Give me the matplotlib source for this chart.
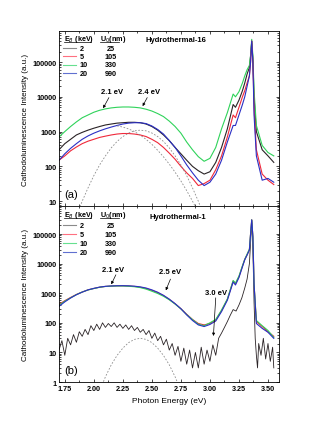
import matplotlib.pyplot as plt
from matplotlib.ticker import MultipleLocator, LogLocator, NullFormatter, FuncFormatter

plt.rcParams['font.family'] = ['Liberation Sans', 'DejaVu Sans']

# photon energy grid (eV), denser near the band-edge peak
energy = [1.70, 1.75, 1.80, 1.85, 1.90, 1.95, 2.00, 2.05, 2.10, 2.15,
          2.20, 2.25, 2.30, 2.35, 2.40, 2.45, 2.50, 2.55, 2.60, 2.65,
          2.70, 2.75, 2.80, 2.85, 2.90, 2.95, 3.00, 3.05, 3.10, 3.15,
          3.20, 3.22, 3.25, 3.28, 3.30, 3.32, 3.34, 3.35, 3.36, 3.37,
          3.38, 3.40, 3.45, 3.50, 3.55]

beam_kev = ['2', '5', '10', '20']
depth_nm = ['25', '105', '330', '990']
colors = ['#2a2326', '#f0283a', '#2fd35a', '#2b2fc4']
legend_colors = ['#8a8a8a', '#ff7080', '#66e090', '#6070d0']

# (a) Hydrothermal-16
h16_2kev = [300, 450, 600, 800, 950, 1100, 1250, 1400, 1550, 1650,
            1750, 1800, 1850, 1850, 1800, 1650, 1400, 1100, 800, 550,
            350, 230, 150, 100, 75, 60, 70, 130, 350, 1200,
            6000, 5000, 8000, 15000, 25000, 45000, 70000, 150000, 400000, 120000,
            10000, 1000, 300, 200, 130]
h16_5kev = [150, 200, 280, 360, 450, 530, 600, 680, 740, 800,
            850, 880, 880, 850, 800, 720, 600, 480, 350, 240,
            160, 100, 65, 45, 28, 32, 40, 80, 200, 700,
            3000, 2500, 5000, 10000, 15000, 25000, 40000, 100000, 400000, 100000,
            5000, 300, 60, 40, 30]
h16_10kev = [700, 1000, 1400, 1900, 2500, 3000, 3600, 4100, 4500, 4800,
             5000, 5100, 5100, 5000, 4800, 4400, 3900, 3300, 2700, 2000,
             1400, 900, 500, 300, 190, 140, 170, 350, 1200, 3500,
             12000, 10000, 14000, 25000, 40000, 60000, 80000, 150000, 450000, 150000,
             15000, 1500, 400, 250, 200]
h16_20kev = [150, 230, 330, 450, 600, 750, 900, 1050, 1200, 1350,
             1500, 1650, 1750, 1800, 1800, 1700, 1450, 1150, 850, 550,
             350, 200, 110, 65, 40, 28, 35, 60, 150, 500,
             1500, 1500, 3000, 6000, 10000, 20000, 40000, 100000, 400000, 100000,
             3000, 200, 40, 45, 35]

# Gaussian components (a)
fit_a1_energy = [2.20, 2.25, 2.30, 2.35, 2.40, 2.45, 2.50, 2.55, 2.60, 2.65,
                 2.70, 2.75, 2.80, 2.85, 2.90]
fit_a1 = [1460, 1350, 1190, 1000, 790, 600, 430, 290, 188, 116,
          68, 38, 20, 10, 4.7]
fit_a2_energy = [1.85, 1.90, 1.95, 2.00, 2.05, 2.10, 2.15, 2.20, 2.25, 2.30,
                 2.35, 2.40, 2.45, 2.50, 2.55, 2.60, 2.65, 2.70, 2.75, 2.80,
                 2.85, 2.90, 2.95]
fit_a2 = [3.7, 10, 24, 54, 110, 200, 340, 520, 720, 910,
          1050, 1100, 1050, 910, 720, 520, 340, 200, 110, 54,
          24, 10, 3.7]

# (b) Hydrothermal-1
h1_5kev = [420, 560, 720, 910, 1100, 1300, 1450, 1600, 1700, 1750,
           1780, 1780, 1750, 1700, 1600, 1450, 1250, 1050, 830, 620,
           440, 300, 195, 130, 95, 85, 95, 125, 260, 620,
           2600, 2100, 3600, 8200, 14000, 20000, 30000, 100000, 300000, 80000,
           2000, 110, 75, 50, 35]
h1_10kev = [390, 540, 700, 900, 1100, 1290, 1440, 1590, 1690, 1740,
            1760, 1760, 1720, 1660, 1550, 1380, 1170, 980, 790, 600,
            430, 295, 190, 128, 90, 80, 100, 130, 270, 640,
            2700, 2200, 3800, 8500, 14000, 21000, 31000, 100000, 300000, 80000,
            2000, 120, 80, 55, 32]
h1_20kev = [360, 510, 690, 890, 1090, 1300, 1460, 1610, 1710, 1760,
            1790, 1800, 1780, 1730, 1640, 1500, 1300, 1080, 850, 630,
            445, 300, 185, 120, 85, 75, 88, 115, 240, 580,
            2400, 1900, 3400, 7800, 13500, 19500, 29000, 100000, 300000, 80000,
            2000, 95, 65, 48, 30]

# 2 keV spectrum of Hydrothermal-1 is much weaker and noisier
h1_2kev_energy = [1.700, 1.725, 1.750, 1.775, 1.800, 1.825, 1.850, 1.875, 1.900, 1.925,
                  1.950, 1.975, 2.000, 2.025, 2.050, 2.075, 2.100, 2.125, 2.150, 2.175,
                  2.200, 2.225, 2.250, 2.275, 2.300, 2.325, 2.350, 2.375, 2.400, 2.425,
                  2.450, 2.475, 2.500, 2.525, 2.550, 2.575, 2.600, 2.625, 2.650, 2.675,
                  2.700, 2.725, 2.750, 2.775, 2.800, 2.825, 2.850, 2.875, 2.900, 2.925,
                  2.950, 2.975, 3.000, 3.025, 3.050, 3.075, 3.100, 3.125, 3.150, 3.175,
                  3.200, 3.225, 3.250, 3.275, 3.300, 3.320, 3.340, 3.350, 3.360, 3.370,
                  3.380, 3.390, 3.400, 3.410, 3.420, 3.440, 3.460, 3.480, 3.500, 3.520,
                  3.540, 3.550]
h1_2kev = [12, 25, 8, 30, 18, 40, 22, 50, 35, 60,
           40, 80, 55, 90, 60, 100, 70, 95, 75, 100,
           70, 90, 65, 85, 60, 80, 55, 70, 48, 60,
           40, 55, 30, 45, 25, 35, 18, 28, 12, 20,
           8, 16, 5, 14, 4, 12, 3, 10, 3, 15,
           4, 12, 5, 18, 8, 30, 45, 70, 110, 180,
           280, 250, 400, 700, 1500, 3000, 10000, 50000, 300000, 30000,
           500, 30, 8, 3, 20, 8, 30, 6, 20, 5,
           15, 3]

fit_b_energy = [2.05, 2.10, 2.15, 2.20, 2.25, 2.30, 2.35, 2.40, 2.45, 2.50,
                2.55, 2.60, 2.65, 2.70, 2.75]
fit_b = [0.5, 1.5, 3.8, 7.9, 14, 21.5, 27.6, 30, 27.6, 21.5,
         14, 7.9, 3.8, 1.5, 0.5]

fig = plt.figure(figsize=(3.25, 4.27), dpi=100)
ax_a = fig.add_axes([0.1815, 0.515, 0.677, 0.41])
ax_b = fig.add_axes([0.1815, 0.103, 0.677, 0.412])


def style_axis(ax, ymin, ymax, show_xlabels):
    ax.set_yscale('log')
    ax.set_xlim(1.70, 3.595)
    ax.set_ylim(ymin, ymax)
    ax.xaxis.set_major_locator(MultipleLocator(0.25))
    ax.xaxis.set_minor_locator(MultipleLocator(0.125))
    ax.yaxis.set_major_locator(LogLocator(base=10, numticks=10))
    ax.yaxis.set_minor_locator(LogLocator(base=10, subs=range(2, 10), numticks=10))
    ax.yaxis.set_minor_formatter(NullFormatter())
    ax.yaxis.set_major_formatter(FuncFormatter(lambda v, _: '%d' % v))
    ax.xaxis.set_major_formatter(FuncFormatter(lambda v, _: '%.2f' % v))
    ax.tick_params(which='both', direction='in', top=True, right=True,
                   width=0.5, labelsize=5.2, pad=2)
    ax.tick_params(which='major', length=2.5)
    ax.tick_params(which='minor', length=1.3)
    for lab in ax.get_xticklabels() + ax.get_yticklabels():
        lab.set_fontweight('bold')
    if not show_xlabels:
        ax.tick_params(axis='x', labelbottom=False)
    for sp in ax.spines.values():
        sp.set_linewidth(0.6)
    ax.set_ylabel('Cathodoluminescence Intensity (a.u.)', fontsize=5.8, labelpad=2)


def draw_legend(ax, y_rows, y_head):
    ax.text(0.023, y_head, r'E$_B$ (keV)', transform=ax.transAxes, fontsize=5.2,
            fontweight='bold', va='center')
    ax.text(0.186, y_head, r'U$_0$(nm)', transform=ax.transAxes, fontsize=5.2,
            fontweight='bold', va='center')
    ax.plot([0.023, 0.145], [y_head - 0.025] * 2, transform=ax.transAxes,
            color='k', lw=0.5)
    ax.plot([0.186, 0.275], [y_head - 0.025] * 2, transform=ax.transAxes,
            color='k', lw=0.5)
    for y, kev, nm, c in zip(y_rows, beam_kev, depth_nm, legend_colors):
        ax.plot([0.018, 0.078], [y, y], transform=ax.transAxes, color=c, lw=0.8)
        ax.text(0.095, y, kev, transform=ax.transAxes, fontsize=5.2,
                fontweight='bold', va='center')
        ax.text(0.236, y, nm, transform=ax.transAxes, fontsize=5.2,
                fontweight='bold', va='center', ha='center')


def arrow_label(ax, text, tip, tail, text_pos):
    ax.annotate('', xy=tip, xytext=tail,
                arrowprops=dict(arrowstyle='-|>', lw=0.5, color='k',
                                mutation_scale=4, shrinkA=0, shrinkB=0))
    ax.text(text_pos[0], text_pos[1], text, fontsize=5.5, fontweight='bold',
            ha='center', va='center')


# panel (a)
lw = 0.8
ax_a.plot(energy, h16_2kev, color=colors[0], lw=lw)
ax_a.plot(energy, h16_10kev, color=colors[2], lw=lw)
ax_a.plot(energy, h16_5kev, color=colors[1], lw=lw)
ax_a.plot(energy, h16_20kev, color=colors[3], lw=lw)
ax_a.plot(fit_a1_energy, fit_a1, color='#8c8c8c', lw=0.6, ls=(0, (2, 2)))
ax_a.plot(fit_a2_energy, fit_a2, color='#8c8c8c', lw=0.6, ls=(0, (2, 2)))
style_axis(ax_a, 7.2, 7.8e5, False)
draw_legend(ax_a, [0.903, 0.857, 0.806, 0.76], 0.96)
ax_a.text(0.53, 0.95, 'Hydrothermal-16', transform=ax_a.transAxes, fontsize=5.5,
          fontweight='bold', ha='center', va='center')
ax_a.text(0.025, 0.07, '(a)', transform=ax_a.transAxes, fontsize=8, va='center')
arrow_label(ax_a, '2.1 eV', (2.08, 4700), (2.13, 9500), (2.16, 14000))
arrow_label(ax_a, '2.4 eV', (2.42, 5400), (2.46, 9500), (2.48, 14000))

# panel (b)
ax_b.plot(h1_2kev_energy, h1_2kev, color=colors[0], lw=0.6)
ax_b.plot(energy, h1_5kev, color=colors[1], lw=lw)
ax_b.plot(energy, h1_10kev, color=colors[2], lw=lw)
ax_b.plot(energy, h1_20kev, color=colors[3], lw=lw)
ax_b.plot(fit_b_energy, fit_b, color='#8c8c8c', lw=0.6, ls=(0, (2, 2)))
style_axis(ax_b, 1, 8.8e5, True)
draw_legend(ax_b, [0.892, 0.841, 0.790, 0.739], 0.955)
ax_b.text(0.54, 0.94, 'Hydrothermal-1', transform=ax_b.transAxes, fontsize=5.5,
          fontweight='bold', ha='center', va='center')
ax_b.text(0.025, 0.07, '(b)', transform=ax_b.transAxes, fontsize=8, va='center')
arrow_label(ax_b, '2.1 eV', (2.15, 2000), (2.19, 4200), (2.17, 6500))
arrow_label(ax_b, '2.5 eV', (2.62, 1250), (2.66, 3000), (2.66, 5500))
arrow_label(ax_b, '3.0 eV', (3.03, 36), (3.05, 700), (3.05, 1050))
ax_b.set_xlabel('Photon Energy (eV)', fontsize=6, labelpad=4)

fig.savefig('out.png', dpi=100)
